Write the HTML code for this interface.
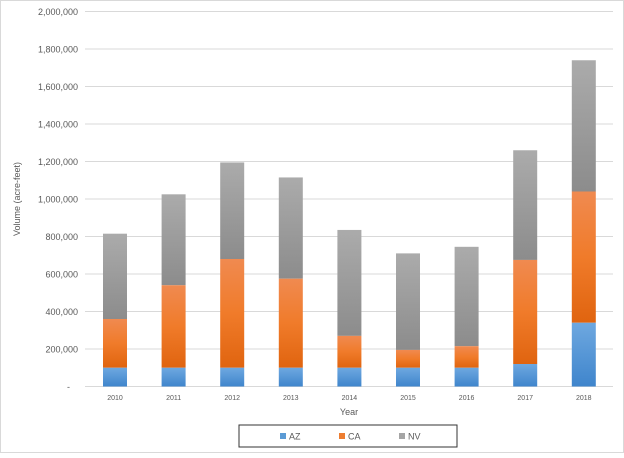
<!DOCTYPE html><html><head><style>body{margin:0;background:#fff}</style></head><body>
<svg width="624" height="453" xmlns="http://www.w3.org/2000/svg" font-family="Liberation Sans, sans-serif">
<defs>
<linearGradient id="g" x1="0" y1="0" x2="0" y2="1"><stop offset="0" stop-color="#ababab"/><stop offset="1" stop-color="#8c8c8c"/></linearGradient>
<linearGradient id="o" x1="0" y1="0" x2="0" y2="1"><stop offset="0" stop-color="#f08a50"/><stop offset="0.5" stop-color="#f07b2a"/><stop offset="1" stop-color="#e0640f"/></linearGradient>
<linearGradient id="b" x1="0" y1="0" x2="0" y2="1"><stop offset="0" stop-color="#6ea8e0"/><stop offset="1" stop-color="#3f85cc"/></linearGradient>
</defs>
<rect x="0.5" y="0.5" width="623" height="452" fill="#fff" stroke="#d9d9d9"/>
<g stroke="#d9d9d9" stroke-width="1">
<line x1="85" x2="613" y1="11.5" y2="11.5"/><line x1="85" x2="613" y1="49" y2="49"/><line x1="85" x2="613" y1="86.5" y2="86.5"/><line x1="85" x2="613" y1="124" y2="124"/><line x1="85" x2="613" y1="161.5" y2="161.5"/><line x1="85" x2="613" y1="199" y2="199"/><line x1="85" x2="613" y1="236.5" y2="236.5"/><line x1="85" x2="613" y1="274" y2="274"/><line x1="85" x2="613" y1="311.5" y2="311.5"/><line x1="85" x2="613" y1="349" y2="349"/><line x1="85" x2="613" y1="386.5" y2="386.5"/>
</g>
<g font-size="9" fill="#595959" text-anchor="end">
<text x="78" y="15">2,000,000</text><text x="78" y="52.5">1,800,000</text><text x="78" y="90">1,600,000</text><text x="78" y="127.5">1,400,000</text><text x="78" y="165">1,200,000</text><text x="78" y="202.5">1,000,000</text><text x="78" y="240">800,000</text><text x="78" y="277.5">600,000</text><text x="78" y="315">400,000</text><text x="78" y="352.5">200,000</text><text x="70" y="390">-</text>
</g>
<text transform="translate(20,199) rotate(-90)" font-size="9" fill="#595959" text-anchor="middle">Volume (acre-feet)</text>
<g>
<rect x="103" y="233.69" width="24" height="85.31" fill="url(#g)"/><rect x="103" y="319" width="24" height="48.75" fill="url(#o)"/><rect x="103" y="367.75" width="24" height="18.75" fill="url(#b)"/>
<rect x="161.6" y="194.31" width="24" height="90.94" fill="url(#g)"/><rect x="161.6" y="285.25" width="24" height="82.5" fill="url(#o)"/><rect x="161.6" y="367.75" width="24" height="18.75" fill="url(#b)"/>
<rect x="220.2" y="162.44" width="24" height="96.56" fill="url(#g)"/><rect x="220.2" y="259" width="24" height="108.75" fill="url(#o)"/><rect x="220.2" y="367.75" width="24" height="18.75" fill="url(#b)"/>
<rect x="278.8" y="177.44" width="24" height="101.25" fill="url(#g)"/><rect x="278.8" y="278.69" width="24" height="89.06" fill="url(#o)"/><rect x="278.8" y="367.75" width="24" height="18.75" fill="url(#b)"/>
<rect x="337.4" y="229.94" width="24" height="105.94" fill="url(#g)"/><rect x="337.4" y="335.88" width="24" height="31.87" fill="url(#o)"/><rect x="337.4" y="367.75" width="24" height="18.75" fill="url(#b)"/>
<rect x="396" y="253.38" width="24" height="96.56" fill="url(#g)"/><rect x="396" y="349.94" width="24" height="17.81" fill="url(#o)"/><rect x="396" y="367.75" width="24" height="18.75" fill="url(#b)"/>
<rect x="454.6" y="246.81" width="24" height="99.38" fill="url(#g)"/><rect x="454.6" y="346.19" width="24" height="21.56" fill="url(#o)"/><rect x="454.6" y="367.75" width="24" height="18.75" fill="url(#b)"/>
<rect x="513.2" y="150.25" width="24" height="109.69" fill="url(#g)"/><rect x="513.2" y="259.94" width="24" height="104.06" fill="url(#o)"/><rect x="513.2" y="364" width="24" height="22.5" fill="url(#b)"/>
<rect x="571.8" y="60.25" width="24" height="131.25" fill="url(#g)"/><rect x="571.8" y="191.5" width="24" height="131.25" fill="url(#o)"/><rect x="571.8" y="322.75" width="24" height="63.75" fill="url(#b)"/>
</g>
<g font-size="7" fill="#595959" text-anchor="middle">
<text x="115" y="400">2010</text><text x="173.6" y="400">2011</text><text x="232.2" y="400">2012</text><text x="290.8" y="400">2013</text><text x="349.4" y="400">2014</text><text x="408" y="400">2015</text><text x="466.6" y="400">2016</text><text x="525.2" y="400">2017</text><text x="583.8" y="400">2018</text>
</g>
<text x="349" y="415" font-size="9" fill="#595959" text-anchor="middle">Year</text>
<rect x="239" y="425" width="218" height="22" fill="#fff" stroke="#333" stroke-width="1"/>
<rect x="280" y="433" width="6" height="6" fill="#5b9bd5"/><text x="289" y="439.5" font-size="9" fill="#595959">AZ</text>
<rect x="339" y="433" width="6" height="6" fill="#ed7d31"/><text x="348" y="439.5" font-size="9" fill="#595959">CA</text>
<rect x="399" y="433" width="6" height="6" fill="#a5a5a5"/><text x="408" y="439.5" font-size="9" fill="#595959">NV</text>
</svg></body></html>
